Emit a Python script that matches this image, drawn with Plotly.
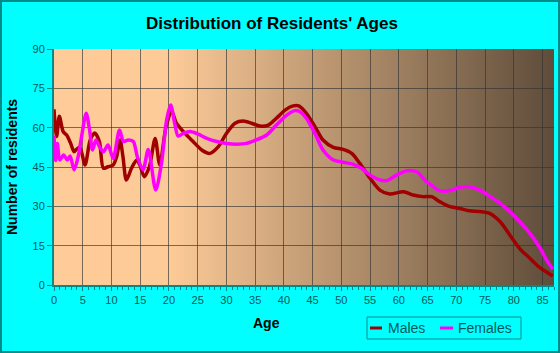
import base64
import plotly.graph_objects as go

# ---- data ----
male_ages = [0, 0.46, 0.93, 1.6, 2.2, 2.9, 3.5, 3.9, 4.5, 5.4, 6.3, 7.1, 7.9, 8.6, 9.4, 10.3,
             10.9, 11.5, 12.0, 12.6, 13.5, 14.4, 15.0, 15.7, 16.6, 17.6, 18.4, 19.5, 20.5,
             21.3, 22.8, 24.2, 25.7, 27.1, 28.6, 30.0, 31.5, 32.9, 34.4, 35.8, 37.3, 38.7,
             40.2, 41.6, 42.6, 43.9, 45.4, 46.8, 48.6, 50.3, 51.8, 53.2, 55.0, 56.7, 58.4,
             60.8, 62.5, 64.2, 65.7, 67.1, 68.6, 70.6, 72.3, 74.1, 75.8, 77.6, 79.3, 81.0,
             82.8, 84.5, 86.8]
male_vals = [67, 56.6, 64.4, 58.5, 57.2, 54, 50.8, 51.7, 52.5, 45.8, 55.3, 58, 54.7, 44.5, 45.1,
             45.8, 48.9, 55.3, 48.9, 40, 44.6, 47.7, 45.4, 41.3, 45.1, 55.9, 45.8, 60.4, 66.1,
             61.7, 57.8, 54.7, 51.5, 50.2, 52.8, 57.8, 61.7, 62.5, 61.7, 60.6, 61, 63.6,
             66.7, 68.3, 68.3, 65.5, 60.4, 55.3, 52.5, 51.7, 50.2, 46.4, 40.7, 36.2, 34.7,
             35.6, 34.3, 33.7, 33.7, 31.8, 30.1, 29.2, 28.3, 28, 27.3, 24.2, 19.1, 14,
             10.2, 6.7, 3.4]

female_ages = [0, 0.3, 0.58, 1.0, 1.7, 2.3, 2.8, 3.5, 4.2, 4.8, 5.6, 6.2, 6.7, 7.3, 7.9, 8.6,
               9.4, 10.3, 11.4, 12.1, 12.9, 13.8, 14.5, 15.5, 16.4, 17.7, 18.7, 19.6, 20.3,
               21.0, 21.6, 22.5, 23.7, 25.1, 26.6, 28.3, 30.0, 31.8, 33.5, 35.2, 37.0, 38.7,
               40.5, 41.9, 42.8, 43.9, 45.4, 46.8, 48.6, 50.3, 52.0, 53.5, 55.0, 56.4, 57.9,
               59.6, 61.4, 63.1, 64.8, 66.2, 67.1, 68.9, 70.6, 72.3, 74.1, 75.8, 77.6, 79.3,
               81.0, 82.8, 84.5, 85.7, 86.8]
female_vals = [57, 47.5, 54, 47.7, 49.6, 47.7, 49.2, 43.9, 48.9, 56.6, 65.5, 59, 51.5, 55.3,
               52.8, 50.8, 53.4, 48.3, 59.1, 54.7, 55.3, 54.7, 48.9, 43.9, 51.7, 36.2, 46.4,
               62.9, 68.6, 61.7, 56.8, 57.8, 58.5, 57.5, 55.9, 54.7, 54, 53.7, 54, 55.3,
               57.2, 61, 64.8, 66.5, 66.1, 63.6, 57.8, 51.5, 47.7, 46.8, 46.1, 44.5, 41.9,
               40.3, 39.8, 41.9, 43.6, 43.2, 39.4, 37.2, 36, 36, 37.3, 37.5, 36.2, 33.9, 31.2,
               28, 24.2, 19.7, 14.4, 9.5, 6]

series_names = ["Males", "Females"]
x_ticks = list(range(0, 90, 5))
y_ticks = [0, 15, 30, 45, 60, 75, 90]
x_max = 87

# ---- styles ----
FONT = "Liberation Sans, Arial, sans-serif"
TEAL = "#008b8b"
TICKTXT = "#005a5a"
MALE_C = "#a00000"
FEMALE_C = "#ff00ff"

W, H = 560, 353
ML, MR, MT, MB = 54, 6, 49, 68
PW, PH = W - ML - MR, H - MT - MB

# gradient background as an SVG image
start = 20 / x_max
svg = ('<svg xmlns="http://www.w3.org/2000/svg" width="500" height="236" preserveAspectRatio="none">'
       '<defs><linearGradient id="g" x1="0" y1="0" x2="1" y2="0">'
       '<stop offset="0" stop-color="rgb(255,204,153)"/>'
       '<stop offset="%.4f" stop-color="rgb(253,203,152)"/>'
       '<stop offset="1" stop-color="rgb(94,76,58)"/>'
       '</linearGradient></defs><rect width="500" height="236" fill="url(#g)"/></svg>') % start
src = "data:image/svg+xml;base64," + base64.b64encode(svg.encode()).decode()

fig = go.Figure()
fig.add_trace(go.Scatter(x=male_ages, y=male_vals, name=series_names[0], mode="lines",
                         showlegend=False,
                         line=dict(color=MALE_C, width=3.5, shape="spline", smoothing=0.8)))
fig.add_trace(go.Scatter(x=female_ages, y=female_vals, name=series_names[1], mode="lines",
                         showlegend=False,
                         line=dict(color=FEMALE_C, width=3.5, shape="spline", smoothing=0.8)))

def px(xp):
    return (xp - ML) / PW

def py(yp):
    return (H - MB - yp) / PH

shapes = [
    # outer border
    dict(type="rect", xref="paper", yref="paper", x0=px(1), x1=px(W - 1), y0=py(H - 1), y1=py(1),
         line=dict(color=TEAL, width=2), layer="above"),
    # legend box
    dict(type="rect", xref="paper", yref="paper", x0=px(367), x1=px(521), y0=py(339), y1=py(317),
         line=dict(color=TEAL, width=1), fillcolor="#00ffff", layer="above"),
    # legend samples
    dict(type="line", xref="paper", yref="paper", x0=px(370), x1=px(382), y0=py(328), y1=py(328),
         line=dict(color=MALE_C, width=3), layer="above"),
    dict(type="line", xref="paper", yref="paper", x0=px(440), x1=px(453), y0=py(328), y1=py(328),
         line=dict(color=FEMALE_C, width=3), layer="above"),
]

annotations = [
    dict(text="<b>Number of residents</b>", textangle=-90, xref="paper", yref="paper",
         x=px(12), y=0.5, xanchor="center", yanchor="middle", showarrow=False,
         font=dict(family=FONT, size=14, color="#000000")),
    dict(text="<b>Age</b>", xref="paper", yref="paper",
         x=px(266), y=py(323), xanchor="center", yanchor="middle",
         showarrow=False, font=dict(family=FONT, size=14, color="#000000")),
    dict(text=series_names[0], xref="paper", yref="paper", x=px(386), y=py(328),
         xanchor="left", yanchor="middle", showarrow=False,
         font=dict(family=FONT, size=14, color=TICKTXT)),
    dict(text=series_names[1], xref="paper", yref="paper", x=px(456), y=py(328),
         xanchor="left", yanchor="middle", showarrow=False,
         font=dict(family=FONT, size=14, color=TICKTXT)),
]

fig.update_layout(
    width=W, height=H,
    margin=dict(l=ML, r=MR, t=MT, b=MB),
    paper_bgcolor="#00ffff",
    plot_bgcolor="rgb(255,204,153)",
    shapes=shapes,
    annotations=annotations,
    images=[dict(source=src, xref="paper", yref="paper", x=0, y=1, sizex=1, sizey=1,
                 sizing="stretch", xanchor="left", yanchor="top", layer="below")],
    title=dict(text="<b>Distribution of Residents' Ages</b>", x=272 / W, xref="container",
               xanchor="center", y=1 - 23 / H, yref="container", yanchor="middle",
               font=dict(family=FONT, size=17, color="#000000")),
    font=dict(family=FONT),
    showlegend=False,
)

fig.update_xaxes(range=[0, x_max], tickvals=x_ticks, ticks="outside", ticklen=4,
                 tickcolor=TEAL, showline=True, linecolor=TEAL, linewidth=2,
                 showgrid=True, gridcolor="rgba(50,50,50,0.65)", gridwidth=1,
                 zeroline=False, tickfont=dict(family=FONT, size=11, color=TICKTXT),
                 minor=dict(dtick=1, ticks="outside", ticklen=3, tickcolor=TEAL, showgrid=False),
                 fixedrange=True)
fig.update_yaxes(range=[0, 90], tickvals=y_ticks, ticks="outside", ticklen=5,
                 tickcolor=TEAL, showline=True, linecolor=TEAL, linewidth=2,
                 showgrid=True, gridcolor="rgba(50,50,50,0.65)", gridwidth=1,
                 zeroline=False, tickfont=dict(family=FONT, size=11, color=TICKTXT),
                 fixedrange=True)

fig.write_html("out.html")
